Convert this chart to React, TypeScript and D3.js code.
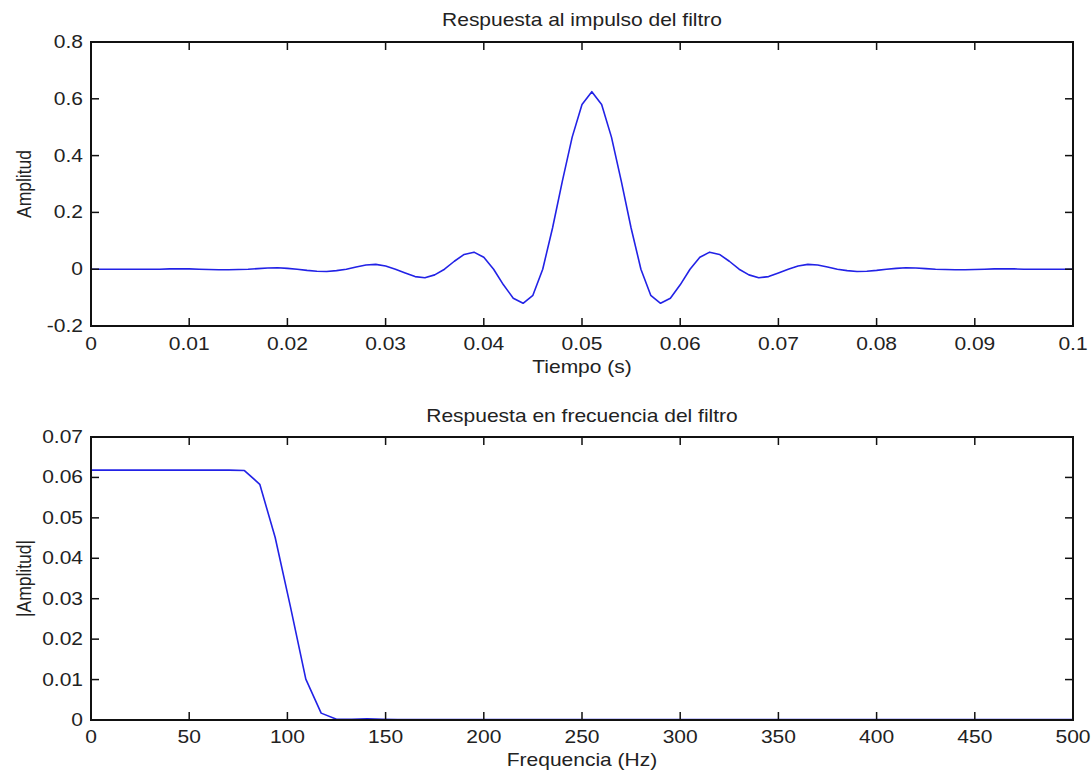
import React from "react";
import * as d3 from "d3";

// Impulse response samples, t = 0 .. 0.1 s, step 0.001 s
const timeStep = 0.001;
const impulse = [
  0, 0, 0, 0, 0, 0, 0, 0, 0.001, 0.001, 0.001, 0, -0.001, -0.002, -0.002, -0.001,
  0, 0.002, 0.004, 0.005, 0.003, 0, -0.004, -0.007, -0.008, -0.005, 0, 0.008, 0.015,
  0.017, 0.011, 0, -0.013, -0.026, -0.03, -0.02, 0, 0.028, 0.052, 0.06, 0.042, 0,
  -0.055, -0.102, -0.12, -0.092, 0, 0.145, 0.31, 0.465, 0.58, 0.625, 0.58, 0.465,
  0.31, 0.145, 0, -0.092, -0.12, -0.102, -0.055, 0, 0.042, 0.06, 0.052, 0.028, 0,
  -0.02, -0.03, -0.026, -0.013, 0, 0.011, 0.017, 0.015, 0.008, 0, -0.005, -0.008,
  -0.007, -0.004, 0, 0.003, 0.005, 0.004, 0.002, 0, -0.001, -0.002, -0.002, -0.001,
  0, 0.001, 0.001, 0.001, 0, 0, 0, 0, 0, 0,
];

// Frequency response magnitude, f = 0 .. 500 Hz, step 7.8125 Hz
const freqStep = 7.8125;
const magnitude = [
  0.0618, 0.0618, 0.0618, 0.0618, 0.0618, 0.0618, 0.0618, 0.0618, 0.0618, 0.0618,
  0.0617, 0.0583, 0.0452, 0.028, 0.0101, 0.0017, 0.0002, 0.0002, 0.0003, 0.0002,
  0.0001, 0.0001, 0.0001, 0.0001, 0.0001, 0.0001, 0.0001, 0.0001, 0.0001, 0.0001,
  0.0001, 0.0001, 0.0001, 0.0001, 0.0001, 0.0001, 0.0001, 0.0001, 0.0001, 0.0001,
  0.0001, 0.0001, 0.0001, 0.0001, 0.0001, 0.0001, 0.0001, 0.0001, 0.0001, 0.0001,
  0.0001, 0.0001, 0.0001, 0.0001, 0.0001, 0.0001, 0.0001, 0.0001, 0.0001, 0.0001,
  0.0001, 0.0001, 0.0001, 0.0001, 0.0001,
];

const topXTicks = [0, 0.01, 0.02, 0.03, 0.04, 0.05, 0.06, 0.07, 0.08, 0.09, 0.1];
const topXLabels = ["0", "0.01", "0.02", "0.03", "0.04", "0.05", "0.06", "0.07", "0.08", "0.09", "0.1"];
const topYTicks = [-0.2, 0, 0.2, 0.4, 0.6, 0.8];
const topYLabels = ["-0.2", "0", "0.2", "0.4", "0.6", "0.8"];
const botXTicks = [0, 50, 100, 150, 200, 250, 300, 350, 400, 450, 500];
const botXLabels = ["0", "50", "100", "150", "200", "250", "300", "350", "400", "450", "500"];
const botYTicks = [0, 0.01, 0.02, 0.03, 0.04, 0.05, 0.06, 0.07];
const botYLabels = ["0", "0.01", "0.02", "0.03", "0.04", "0.05", "0.06", "0.07"];

const FONT = "'Liberation Sans', Arial, Helvetica, sans-serif";
const FS = 17.5;
const SX = 1.2;
const TXT = "#222";

function T({ x, y, anchor = "middle", rotate = false, children }: any) {
  const tr = rotate
    ? `translate(${x},${y}) scale(${SX},1) rotate(-90)`
    : `translate(${x},${y}) scale(${SX},1)`;
  return (
    <text transform={tr} textAnchor={anchor} fontFamily={FONT} fontSize={FS} fill={TXT}>
      {children}
    </text>
  );
}

function Panel({ x0, x1, y0, y1, xDomain, yDomain, xTicks, xLabels, yTicks, yLabels, data, step, title, xLabel, yLabel, xLabelY, tickLabelY, titleY }: any) {
  const xs = d3.scaleLinear().domain(xDomain).range([x0, x1]);
  const ys = d3.scaleLinear().domain(yDomain).range([y1, y0]);
  const line = d3
    .line<number>()
    .x((_, i) => xs(i * step))
    .y((d) => ys(d));
  const tl = 8;
  const cx = (x0 + x1) / 2;
  const cy = (y0 + y1) / 2;
  return (
    <g>
      <path d={line(data) || ""} fill="none" stroke="#2222e6" strokeWidth={1.6} strokeLinejoin="round" />
      <rect x={x0} y={y0} width={x1 - x0} height={y1 - y0} fill="none" stroke="#111" strokeWidth={2} />
      {xTicks.map((t: number, i: number) => (
        <g key={"xt" + i}>
          <line x1={xs(t)} x2={xs(t)} y1={y1} y2={y1 - tl} stroke="#111" strokeWidth={1.5} />
          <line x1={xs(t)} x2={xs(t)} y1={y0} y2={y0 + tl} stroke="#111" strokeWidth={1.5} />
          <T x={xs(t)} y={tickLabelY}>{xLabels[i]}</T>
        </g>
      ))}
      {yTicks.map((t: number, i: number) => (
        <g key={"yt" + i}>
          <line x1={x0} x2={x0 + tl} y1={ys(t)} y2={ys(t)} stroke="#111" strokeWidth={1.5} />
          <line x1={x1} x2={x1 - tl} y1={ys(t)} y2={ys(t)} stroke="#111" strokeWidth={1.5} />
          <T x={x0 - 8} y={ys(t) + 6} anchor="end">{yLabels[i]}</T>
        </g>
      ))}
      <T x={cx} y={titleY}>{title}</T>
      <T x={cx} y={xLabelY}>{xLabel}</T>
      <T x={31} y={cy} rotate>{yLabel}</T>
    </g>
  );
}

export default function App() {
  return (
    <svg width={1092} height={772} style={{ position: "absolute", left: 0, top: 0, background: "#fff" }}>
      <rect width={1092} height={772} fill="#fff" />
      <Panel
        x0={91} x1={1073} y0={42} y1={326}
        xDomain={[0, 0.1]} yDomain={[-0.2, 0.8]}
        xTicks={topXTicks} xLabels={topXLabels}
        yTicks={topYTicks} yLabels={topYLabels}
        data={impulse} step={timeStep}
        title="Respuesta al impulso del filtro" titleY={26}
        xLabel="Tiempo (s)" xLabelY={373} tickLabelY={350}
        yLabel="Amplitud"
      />
      <Panel
        x0={91} x1={1073} y0={437} y1={720}
        xDomain={[0, 500]} yDomain={[0, 0.07]}
        xTicks={botXTicks} xLabels={botXLabels}
        yTicks={botYTicks} yLabels={botYLabels}
        data={magnitude} step={freqStep}
        title="Respuesta en frecuencia del filtro" titleY={422}
        xLabel="Frequencia (Hz)" xLabelY={766} tickLabelY={743}
        yLabel="|Amplitud|"
      />
    </svg>
  );
}
